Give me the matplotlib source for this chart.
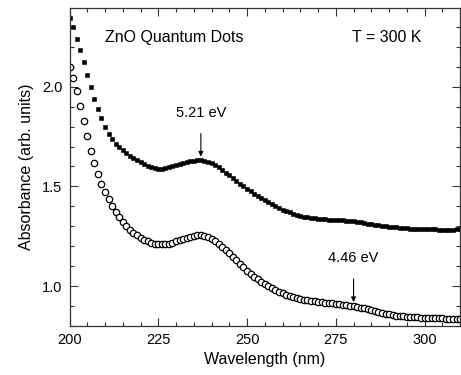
import numpy as np
import matplotlib
matplotlib.use("Agg")
import matplotlib.pyplot as plt
from matplotlib.ticker import MultipleLocator

plt.rcParams['font.family'] = ['Liberation Sans', 'DejaVu Sans']

wavelength = list(range(200, 311))

absorb_upper = [
    2.345, 2.300, 2.240, 2.185, 2.125, 2.060, 2.000, 1.940, 1.890, 1.845,
    1.800, 1.765, 1.740, 1.715, 1.700, 1.685, 1.670, 1.655, 1.643, 1.632,
    1.622, 1.612, 1.604, 1.597, 1.592, 1.588, 1.588, 1.590, 1.595, 1.600,
    1.605, 1.610, 1.617, 1.622, 1.627, 1.630, 1.632, 1.632, 1.630, 1.625,
    1.617, 1.605, 1.595, 1.582, 1.568, 1.555, 1.540, 1.527, 1.513, 1.500,
    1.487, 1.475, 1.463, 1.452, 1.440, 1.430, 1.420, 1.410, 1.400, 1.390,
    1.383, 1.376, 1.370, 1.364, 1.358, 1.353, 1.349, 1.345, 1.342, 1.340,
    1.338, 1.336, 1.335, 1.334, 1.333, 1.332, 1.331, 1.330, 1.329, 1.327,
    1.325, 1.322, 1.320, 1.317, 1.314, 1.311, 1.308, 1.305, 1.302, 1.300,
    1.298, 1.296, 1.294, 1.292, 1.290, 1.289, 1.288, 1.287, 1.286, 1.285,
    1.285, 1.284, 1.284, 1.284, 1.283, 1.283, 1.283, 1.283, 1.283, 1.284,
    1.284,
]

absorb_lower = [
    2.100, 2.045, 1.980, 1.905, 1.830, 1.755, 1.680, 1.620, 1.560, 1.510,
    1.470, 1.435, 1.400, 1.370, 1.345, 1.320, 1.300, 1.283, 1.268, 1.255,
    1.243, 1.233, 1.225, 1.218, 1.213, 1.210, 1.209, 1.210, 1.213, 1.218,
    1.224, 1.230, 1.237, 1.243, 1.248, 1.252, 1.254, 1.254, 1.251, 1.245,
    1.236, 1.225, 1.212, 1.198, 1.182, 1.165, 1.148, 1.130, 1.112, 1.095,
    1.078, 1.063, 1.048, 1.035, 1.022, 1.010, 0.999, 0.989, 0.980, 0.972,
    0.964, 0.957, 0.950, 0.944, 0.939, 0.935, 0.931, 0.928, 0.925, 0.923,
    0.921, 0.919, 0.917, 0.915, 0.913, 0.911, 0.909, 0.907, 0.905, 0.902,
    0.899, 0.896, 0.892, 0.888, 0.883, 0.878, 0.874, 0.869, 0.865, 0.861,
    0.858, 0.855, 0.852, 0.850, 0.848, 0.846, 0.845, 0.844, 0.843, 0.842,
    0.841, 0.840, 0.839, 0.839, 0.838, 0.838, 0.837, 0.837, 0.837, 0.837,
    0.837,
]

peak1_label = "5.21 eV"
peak1_x = 237
peak2_label = "4.46 eV"
peak2_x = 280

fig = plt.figure(figsize=(4.61, 3.75), dpi=100)
ax = fig.add_axes([0.1508, 0.1307, 0.8472, 0.848])

ax.plot(wavelength, absorb_upper, linestyle='none', marker='s', markersize=2.9,
        color='black', markeredgewidth=0.4)
ax.plot(wavelength, absorb_lower, linestyle='none', marker='o', markersize=4.6,
        markerfacecolor='white', markeredgecolor='black', markeredgewidth=0.9)

ax.set_xlim(200, 310)
ax.set_ylim(0.8, 2.395)
ax.xaxis.set_major_locator(MultipleLocator(25))
ax.xaxis.set_minor_locator(MultipleLocator(5))
ax.yaxis.set_major_locator(MultipleLocator(0.5))
ax.yaxis.set_minor_locator(MultipleLocator(0.1))
ax.yaxis.set_major_formatter(matplotlib.ticker.FormatStrFormatter('%.1f'))

ax.tick_params(which='both', direction='in', top=True, right=True,
               labelsize=10.5, width=0.8, color='#333333')
ax.tick_params(which='major', length=5.5, pad=5)
ax.tick_params(which='minor', length=3)
for s in ax.spines.values():
    s.set_linewidth(0.9)
    s.set_color('#333333')

ax.set_xlabel("Wavelength (nm)", fontsize=11.5, labelpad=4)
ax.set_ylabel("Absorbance (arb. units)", fontsize=11.5, labelpad=6)

ax.text(210, 2.245, "ZnO Quantum Dots", fontsize=11.5, ha='left', va='center')
ax.text(299, 2.245, "T = 300 K", fontsize=11.5, ha='right', va='center')

ax.annotate(peak1_label, xy=(peak1_x, 1.65), xytext=(peak1_x, 1.87),
            ha='center', va='center', fontsize=10.5,
            arrowprops=dict(arrowstyle='-|>', color='black', lw=0.8,
                            mutation_scale=7, shrinkA=8, shrinkB=0))
ax.annotate(peak2_label, xy=(peak2_x, 0.92), xytext=(peak2_x, 1.14),
            ha='center', va='center', fontsize=10.5,
            arrowprops=dict(arrowstyle='-|>', color='black', lw=0.8,
                            mutation_scale=7, shrinkA=8, shrinkB=0))

fig.savefig("out.png", dpi=100)
